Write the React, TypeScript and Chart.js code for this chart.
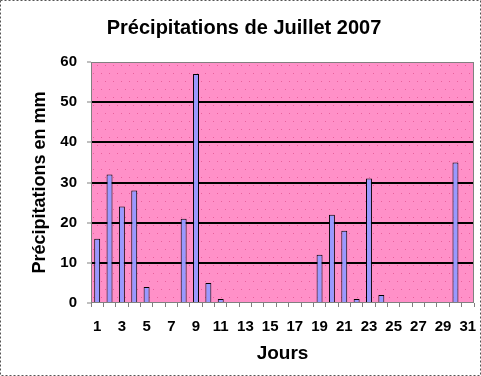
import React, { useEffect, useRef } from "react";
import { Chart, registerables } from "chart.js";

Chart.register(...registerables);

const days: string[] = [
  "1","2","3","4","5","6","7","8","9","10","11","12","13","14","15","16",
  "17","18","19","20","21","22","23","24","25","26","27","28","29","30","31",
];
const rainfall: number[] = [
  16, 32, 24, 28, 4, 0, 0, 21, 57, 5, 1, 0, 0, 0, 0, 0,
  0, 0, 12, 22, 18, 1, 31, 2, 0, 0, 0, 0, 0, 35, 0,
];
const chartTitle = "Précipitations de Juillet 2007";
const yTitle = "Précipitations en mm";
const xTitle = "Jours";

const FONT = "Arial, 'Liberation Sans', sans-serif";

function makePattern(ctx: CanvasRenderingContext2D) {
  const c = document.createElement("canvas");
  c.width = 8;
  c.height = 16;
  const p = c.getContext("2d")!;
  p.fillStyle = "#ff90c8";
  p.fillRect(0, 0, 8, 16);
  p.fillStyle = "#e8609c";
  p.fillRect(1, 1, 1, 1);
  p.fillRect(5, 9, 1, 1);
  return ctx.createPattern(c, "repeat")!;
}

const plotBg = {
  id: "plotBg",
  beforeDraw(chart: any) {
    const { ctx, chartArea } = chart;
    ctx.save();
    ctx.fillStyle = makePattern(ctx);
    ctx.fillRect(chartArea.left, chartArea.top, chartArea.right - chartArea.left, chartArea.bottom - chartArea.top);
    ctx.restore();
  },
  afterDraw(chart: any) {
    const { ctx, chartArea, width, height } = chart;
    ctx.save();
    ctx.strokeStyle = "#808080";
    ctx.lineWidth = 1;
    ctx.strokeRect(chartArea.left + 0.5, chartArea.top + 0.5, chartArea.right - chartArea.left - 1, chartArea.bottom - chartArea.top - 1);
    ctx.setLineDash([2, 2]);
    ctx.strokeStyle = "#555";
    ctx.strokeRect(0.5, 0.5, width - 1, height - 1);
    // chart title
    ctx.setLineDash([]);
    ctx.fillStyle = "#000";
    ctx.font = `bold 20px ${FONT}`;
    ctx.textAlign = "center";
    ctx.textBaseline = "middle";
    ctx.fillText(chartTitle, 244, 28);
    ctx.restore();
  },
};

export default function App() {
  const ref = useRef<HTMLCanvasElement>(null);
  useEffect(() => {
    document.body.style.margin = "0";
    const chart = new Chart(ref.current!, {
      type: "bar",
      data: {
        labels: days,
        datasets: [
          {
            data: rainfall,
            backgroundColor: "#9999ff",
            borderColor: "#000000",
            borderWidth: 1,
            barPercentage: 0.48,
            categoryPercentage: 1,
          },
        ],
      },
      options: {
        animation: false,
        responsive: false,
        layout: { padding: { left: 0, right: 7, top: 62, bottom: 0 } },
        plugins: {
          legend: { display: false },
          tooltip: { enabled: false },
          title: { display: false },
        },
        scales: {
          x: {
            afterFit(scale: any) {
              scale.height = 73;
              scale.paddingRight = 0;
              scale.paddingLeft = 0;
            },
            grid: {
              display: true,
              drawOnChartArea: false,
              drawTicks: true,
              tickLength: 4,
              color: "#808080",
              offset: true,
            },
            border: { display: false },
            ticks: {
              autoSkip: false,
              maxRotation: 0,
              minRotation: 0,
              padding: 11,
              color: "#000",
              font: { family: FONT, size: 15, weight: "bold" },
              callback: (_v: any, i: number) => (i % 2 === 0 ? days[i] : ""),
            },
            title: {
              display: true,
              text: xTitle,
              color: "#000",
              font: { family: FONT, size: 19, weight: "bold" },
              padding: { top: 0, bottom: 11 },
            },
          },
          y: {
            min: 0,
            max: 60,
            afterFit(scale: any) {
              scale.width = 91;
              scale.paddingTop = 0;
            },
            grid: {
              drawTicks: true,
              tickLength: 4,
              color: (c: any) => (c.tick && (c.tick.value === 0 || c.tick.value === 60) ? "rgba(0,0,0,0)" : "#000"),
              lineWidth: 2,
              tickColor: "#808080",
              tickWidth: 1,
            },
            border: { display: false },
            ticks: {
              stepSize: 10,
              padding: 10,
              color: "#000",
              font: { family: FONT, size: 15, weight: "bold" },
            },
            title: {
              display: true,
              text: yTitle,
              color: "#000",
              font: { family: FONT, size: 18, weight: "bold" },
              padding: { top: 29, bottom: 0 },
            },
          },
        },
      },
      plugins: [plotBg],
    });
    return () => chart.destroy();
  }, []);
  return <canvas ref={ref} width={481} height={376} style={{ display: "block" }} />;
}
